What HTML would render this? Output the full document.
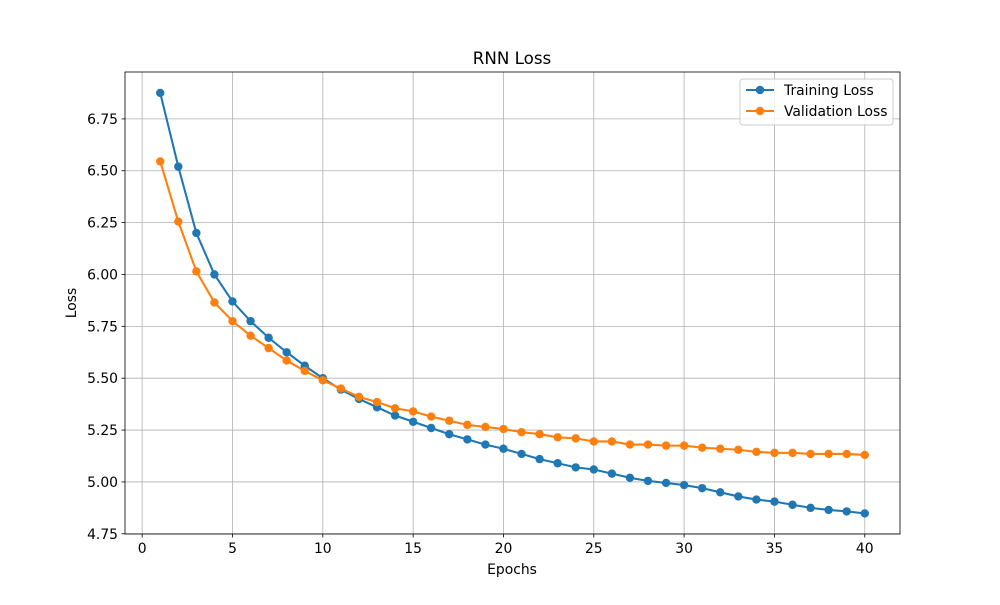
<!DOCTYPE html>
<html><head><meta charset="utf-8"><style>
body{margin:0;background:#fff;font-family:"Liberation Sans","DejaVu Sans",sans-serif}
svg text{font-family:"DejaVu Sans","Liberation Sans",sans-serif}
</style></head><body>
<svg id="chart" width="1000" height="600" xmlns="http://www.w3.org/2000/svg">
<rect width="1000" height="600" fill="#fff"/>
<g id="grid"></g>
<g id="ticks"></g>
<g id="series"></g>
<rect x="125" y="72" width="775" height="462" fill="none" stroke="#000" stroke-width="0.8"/>
<text x="512" y="64" text-anchor="middle" font-size="16.7">RNN Loss</text>
<text x="512" y="574" text-anchor="middle" font-size="13.9">Epochs</text>
<text transform="translate(76,303) rotate(-90)" text-anchor="middle" font-size="13.9">Loss</text>
<g>
<rect x="740" y="79" width="153" height="46" rx="3" fill="#fff" fill-opacity="0.8" stroke="#ccc"/>
<g>
<line x1="746" y1="90" x2="774" y2="90" stroke="#1f77b4" stroke-width="2.08"/><circle cx="760" cy="90" r="4.2" fill="#1f77b4"/>
<text x="784" y="95" font-size="13.9">Training Loss</text></g>
<g>
<line x1="746" y1="111" x2="774" y2="111" stroke="#ff7f0e" stroke-width="2.08"/><circle cx="760" cy="111" r="4.2" fill="#ff7f0e"/>
<text x="784" y="116" font-size="13.9">Validation Loss</text></g>
</g>
</svg>
<script>
const epochs=[];for(let i=1;i<=40;i++)epochs.push(i);
const trainingLoss=[6.875,6.52,6.20,6.00,5.87,5.775,5.695,5.625,5.56,5.50,5.445,5.40,5.36,5.32,5.29,5.26,5.23,5.205,5.18,5.16,5.135,5.11,5.09,5.07,5.06,5.04,5.02,5.005,4.995,4.985,4.97,4.95,4.93,4.915,4.905,4.89,4.875,4.865,4.858,4.848];
const validationLoss=[6.545,6.255,6.015,5.865,5.775,5.705,5.645,5.585,5.535,5.49,5.45,5.41,5.385,5.355,5.34,5.315,5.295,5.275,5.265,5.255,5.24,5.23,5.215,5.21,5.195,5.195,5.18,5.18,5.175,5.175,5.165,5.16,5.155,5.145,5.14,5.14,5.135,5.135,5.135,5.13];
const xTicks=[0,5,10,15,20,25,30,35,40];
const yTicks=[4.75,5.00,5.25,5.50,5.75,6.00,6.25,6.50,6.75];
const NS="http://www.w3.org/2000/svg";
const X0=125,X1=900,Y0=534,Y1=72;
const xmin=-0.95,xmax=41.95,ymin=4.749,ymax=6.976;
const sx=v=>X0+(v-xmin)/(xmax-xmin)*(X1-X0);
const sy=v=>Y0-(v-ymin)/(ymax-ymin)*(Y0-Y1);
function mk(tag,attrs,parent){const e=document.createElementNS(NS,tag);for(const k in attrs)e.setAttribute(k,attrs[k]);parent.appendChild(e);return e;}
const grid=document.getElementById('grid'),ticks=document.getElementById('ticks'),ser=document.getElementById('series');
xTicks.forEach(t=>{const x=sx(t);
const g=mk('line',{x1:x,x2:x,y1:Y1,y2:Y0,stroke:'#b0b0b0','stroke-width':0.8},grid);


mk('line',{x1:x,x2:x,y1:Y0,y2:Y0+3.5,stroke:'#000','stroke-width':0.8},ticks);
const tx=mk('text',{x:x,y:Y0+19,'text-anchor':'middle','font-size':13.9},ticks);tx.textContent=t;

});
yTicks.forEach(t=>{const y=sy(t);
const g=mk('line',{x1:X0,x2:X1,y1:y,y2:y,stroke:'#b0b0b0','stroke-width':0.8},grid);


mk('line',{x1:X0-3.5,x2:X0,y1:y,y2:y,stroke:'#000','stroke-width':0.8},ticks);
const tx=mk('text',{x:X0-7,y:y+5,'text-anchor':'end','font-size':13.9},ticks);tx.textContent=t.toFixed(2);

});
function draw(vals,color,name){
const pts=vals.map((v,i)=>sx(epochs[i])+','+sy(v)).join(' ');
const pl=mk('polyline',{points:pts,fill:'none',stroke:color,'stroke-width':2.08},ser);


vals.forEach((v,i)=>{const c=mk('circle',{cx:sx(epochs[i]),cy:sy(v),r:4.2,fill:color},ser);

});}
draw(trainingLoss,'#1f77b4','training-loss');
draw(validationLoss,'#ff7f0e','validation-loss');
</script>
</body></html>
